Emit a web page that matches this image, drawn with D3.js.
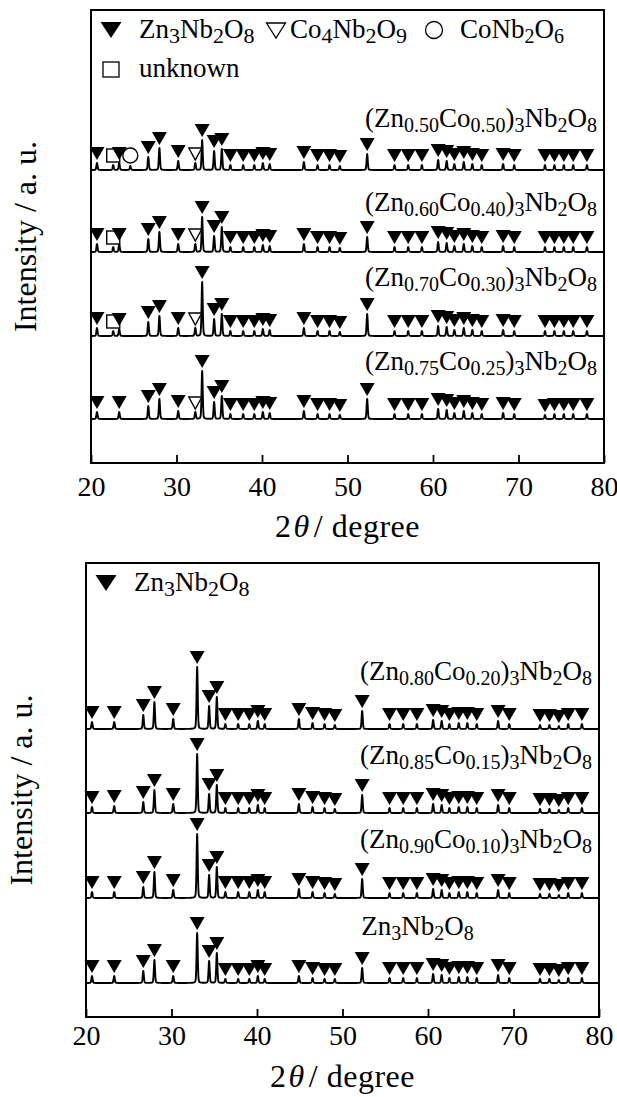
<!DOCTYPE html>
<html>
<head>
<meta charset="utf-8">
<script src="https://cdn.jsdelivr.net/npm/d3@7"></script>
<style>
  body { margin: 0; background: #fff; }
  svg { display: block; }
  text { font-family: "Liberation Serif", "Times New Roman", serif; fill: #000; }
</style>
</head>
<body>
<svg width="617" height="1097"></svg>
<script>
// select the svg container first
const svg = d3.select('svg');

// 2theta of the Zn3Nb2O8 reflections (filled triangles)
const znPeaks = [20.7, 23.3, 26.7, 28.0, 30.2, 33.0, 34.4, 35.3, 36.3, 37.8, 39.1, 40.1, 40.9,
  44.9, 46.5, 47.9, 49.1, 52.3, 55.5, 57.1, 58.7, 60.6, 61.6, 62.5, 63.6, 64.6, 65.7,
  68.2, 69.5, 73.1, 74.2, 75.3, 76.4, 78.0];

// peak intensities (a. u.) for every sample, same order as znPeaks
const top050 = [7, 7, 13, 22, 9, 30, 19, 21, 5, 5, 5, 7, 6, 8, 5, 5, 4, 16, 5, 5, 5, 10, 9, 6, 8, 6, 5, 6, 5, 5, 5, 5, 5, 5];
const top060 = [8, 8, 13, 20, 8, 35, 16, 25, 5, 5, 5, 7, 6, 8, 5, 5, 4, 15, 5, 5, 5, 10, 9, 6, 8, 6, 5, 6, 5, 5, 5, 5, 5, 5];
const top070 = [8, 7, 14, 20, 8, 54, 17, 22, 5, 5, 5, 7, 6, 8, 5, 5, 4, 22, 5, 5, 5, 10, 9, 6, 8, 6, 5, 6, 5, 5, 5, 5, 5, 5];
const top075 = [7, 7, 13, 20, 8, 48, 17, 23, 5, 5, 5, 7, 6, 8, 5, 5, 4, 20, 5, 5, 5, 10, 9, 6, 8, 6, 5, 6, 5, 4, 5, 5, 5, 5];
const bot080 = [7, 7, 14, 27, 10, 62, 23, 32, 5, 5, 5, 8, 5, 10, 6, 5, 4, 18, 5, 5, 5, 9, 8, 5, 6, 6, 5, 8, 5, 4, 4, 3, 5, 5];
const bot085 = [6, 7, 11, 23, 9, 59, 19, 28, 5, 5, 5, 8, 5, 9, 6, 5, 4, 18, 5, 5, 5, 9, 8, 5, 6, 6, 5, 8, 5, 4, 4, 3, 5, 5];
const bot090 = [6, 6, 11, 26, 8, 64, 23, 31, 6, 6, 6, 8, 6, 9, 6, 5, 4, 19, 5, 5, 5, 9, 8, 5, 6, 6, 5, 8, 5, 4, 4, 3, 5, 5];
const botZn = [7, 7, 12, 23, 7, 50, 22, 30, 4, 4, 4, 7, 4, 7, 5, 4, 4, 15, 5, 5, 5, 9, 8, 5, 6, 6, 5, 8, 5, 4, 4, 3, 5, 5];

// second phases in the Co-rich samples (top panel, one value per trace)
const unknownPos = 22.6;
const unknownTop = [5, 5, 5, 0];
const coNb2O6Pos = 24.6;
const coNb2O6Top = [4, 0, 0, 0];
const co4Nb2O9Pos = 32.2;
const co4Nb2O9Top = [7, 8, 8, 7];

const labelsTop = ['(Zn{0.50}Co{0.50}){3}Nb{2}O{8}', '(Zn{0.60}Co{0.40}){3}Nb{2}O{8}',
  '(Zn{0.70}Co{0.30}){3}Nb{2}O{8}', '(Zn{0.75}Co{0.25}){3}Nb{2}O{8}'];
const labelsBottom = ['(Zn{0.80}Co{0.20}){3}Nb{2}O{8}', '(Zn{0.85}Co{0.15}){3}Nb{2}O{8}',
  '(Zn{0.90}Co{0.10}){3}Nb{2}O{8}', 'Zn{3}Nb{2}O{8}'];
const xTicks = [20, 30, 40, 50, 60, 70, 80];

const panels = [
  { left: 91, right: 604, top: 10, bottom: 463, labels: labelsTop,
    series: [top050, top060, top070, top075], offsets: [293, 211, 127, 44],
    labelDy: [43, 41, 50, 49], extras: true, tickPad: 13, titleY: 537, yTitleX: 36 },
  { left: 86, right: 599, top: 563, bottom: 1017, labels: labelsBottom,
    series: [bot080, bot085, bot090, botZn], offsets: [288, 204, 119, 34],
    labelDy: [49, 49, 50, 48], extras: false, tickPad: 8, titleY: 1087, yTitleX: 32 }
];

const serif = '"Liberation Serif", "Times New Roman", serif';

// pseudo-Voigt profile for a reflection
const fwhm = 0.16, eta = 0.25;
function profile(t, c, h) {
  const u = (t - c) / fwhm;
  return h * (eta / (1 + 4 * u * u) + (1 - eta) * Math.exp(-4 * Math.LN2 * u * u));
}

// formula text with subscripts written in braces
function formula(sel, str, size, subSize) {
  const parts = str.split(/(\{[^}]*\})/).filter((s) => s.length);
  let inSub = false;
  parts.forEach((p) => {
    const isSub = p[0] === '{';
    const t = sel.append('tspan')
      .attr('font-size', isSub ? subSize : size)
      .text(isSub ? p.slice(1, -1) : p);
    if (isSub !== inSub) t.attr('dy', isSub ? 5 : -5);
    inSub = isSub;
  });
}

const triDown = (cx, tip, w, h) => `M${cx - w / 2},${tip - h}L${cx + w / 2},${tip - h}L${cx},${tip}Z`;
const grid = d3.range(20, 80.001, 0.02);

panels.forEach((p, pi) => {
  const g = svg.append('g').attr('font-family', serif);
  const x = d3.scaleLinear().domain([20, 80]).range([p.left, p.right]);
  const y = d3.scaleLinear().domain([0, p.bottom - p.top]).range([p.bottom, p.top]);

  p.series.forEach((vals, si) => {
    const off = p.offsets[si];
    const peaks = znPeaks.map((c, i) => ({ c, h: vals[i] }));
    if (p.extras) {
      peaks.push({ c: unknownPos, h: unknownTop[si] });
      peaks.push({ c: coNb2O6Pos, h: coNb2O6Top[si] });
      peaks.push({ c: co4Nb2O9Pos, h: co4Nb2O9Top[si] });
    }
    const data = grid.map((t) => [t, d3.sum(peaks, (pk) => (pk.h ? profile(t, pk.c, pk.h) : 0))]);

    g.append('path')
      .datum(data)
      .attr('fill', 'none')
      .attr('stroke', '#000')
      .attr('stroke-width', 1.9)
      .attr('stroke-linejoin', 'round')
      .attr('d', d3.line().x((d) => x(d[0])).y((d) => y(off + d[1])));

    // filled triangles above Zn3Nb2O8 peaks
    g.selectAll(null)
      .data(znPeaks.map((c, i) => ({ c, h: vals[i] })))
      .enter()
      .append('path')
      .attr('fill', '#000')
      .attr('d', (d) => triDown(x(d.c), y(off + d.h) - 3, 15, 13));

    if (p.extras) {
      if (co4Nb2O9Top[si]) {
        g.append('path')
          .attr('fill', '#fff').attr('stroke', '#000').attr('stroke-width', 1.4)
          .attr('d', triDown(x(co4Nb2O9Pos), y(off + co4Nb2O9Top[si]) - 3, 13, 12));
      }
      if (unknownTop[si]) {
        const bx = x(unknownPos), by = y(off + unknownTop[si]) - 3;
        g.append('rect')
          .attr('x', bx - 6.5).attr('y', by - 13).attr('width', 13).attr('height', 13)
          .attr('fill', 'none').attr('stroke', '#000').attr('stroke-width', 1.4);
      }
      if (coNb2O6Top[si]) {
        g.append('circle')
          .attr('cx', x(coNb2O6Pos)).attr('cy', y(off + coNb2O6Top[si]) - 3 - 7.5).attr('r', 7.5)
          .attr('fill', 'none').attr('stroke', '#000').attr('stroke-width', 1.4);
      }
    }

    // sample label
    const lab = g.append('text').attr('y', y(off) - p.labelDy[si]);
    if (pi === 1 && si === 3) {
      lab.attr('x', x(52.2));
    } else {
      lab.attr('x', p.right - 7).attr('text-anchor', 'end');
    }
    formula(lab, p.labels[si], 27, 20);
  });

  // frame
  g.append('rect')
    .attr('x', p.left).attr('y', p.top)
    .attr('width', p.right - p.left).attr('height', p.bottom - p.top)
    .attr('fill', 'none').attr('stroke', '#000').attr('stroke-width', 2);

  // bottom axis, ticks inward
  const ax = g.append('g')
    .attr('transform', `translate(0,${p.bottom})`)
    .call(d3.axisBottom(x).tickValues(xTicks).tickSizeInner(-8).tickSizeOuter(0).tickPadding(p.tickPad));
  ax.attr('font-family', serif).attr('font-size', 28);
  ax.select('.domain').remove();
  ax.selectAll('line').attr('stroke-width', 1.8);
  ax.selectAll('text').attr('font-size', 28).attr('font-family', serif);

  // axis titles
  const xt = g.append('text')
    .attr('x', (p.left + p.right) / 2).attr('y', p.titleY)
    .attr('text-anchor', 'middle').attr('font-size', 32).attr('letter-spacing', 0.5);
  xt.append('tspan').text('2');
  xt.append('tspan').attr('font-style', 'italic').attr('dx', 2).text('θ');
  xt.append('tspan').attr('dx', 4).text('/ degree');

  g.append('text')
    .attr('transform', `translate(${p.yTitleX},${(p.top + p.bottom) / 2}) rotate(-90)`)
    .attr('text-anchor', 'middle').attr('font-size', 32)
    .text('Intensity / a. u.');

  // legend
  const lx = p.left + 20, ly = p.top + 28;
  g.append('path').attr('fill', '#000').attr('d', triDown(lx, ly, 21, 16));
  formula(g.append('text').attr('x', p.left + 48).attr('y', ly), 'Zn{3}Nb{2}O{8}', 27, 22);
  if (p.extras) {
    g.append('path').attr('fill', 'none').attr('stroke', '#000').attr('stroke-width', 1.3)
      .attr('d', triDown(276, ly, 19, 15));
    formula(g.append('text').attr('x', 290).attr('y', ly), 'Co{4}Nb{2}O{9}', 27, 22);
    g.append('circle').attr('cx', 434).attr('cy', ly - 8).attr('r', 8.5)
      .attr('fill', 'none').attr('stroke', '#000').attr('stroke-width', 1.3);
    formula(g.append('text').attr('x', 460).attr('y', ly), 'CoNb{2}O{6}', 27, 20);
    g.append('rect').attr('x', lx - 8).attr('y', ly + 24).attr('width', 16).attr('height', 15)
      .attr('fill', 'none').attr('stroke', '#000').attr('stroke-width', 1.3);
    g.append('text').attr('x', p.left + 48).attr('y', ly + 39).attr('font-size', 27).text('unknown');
  }
});
</script>
</body>
</html>
